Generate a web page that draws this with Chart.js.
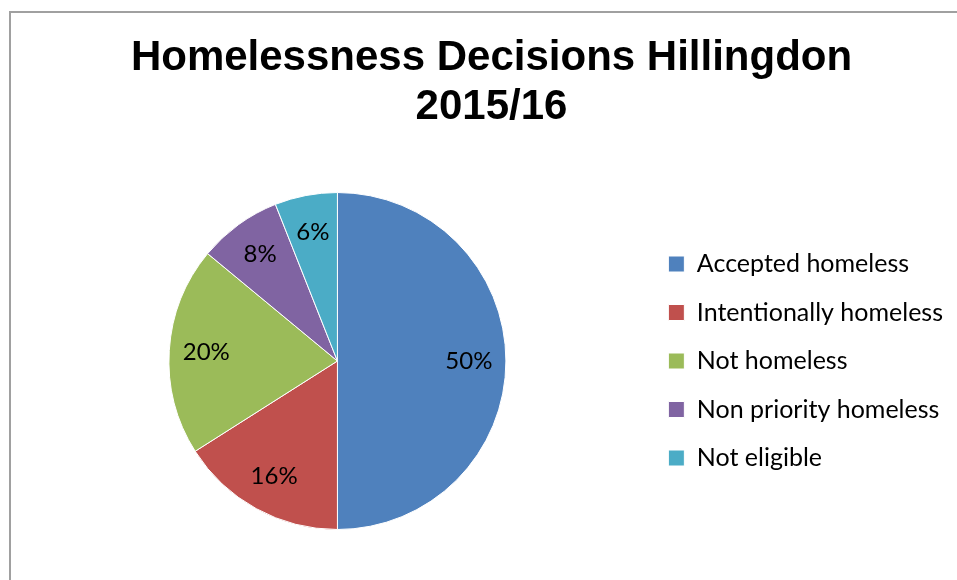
<!DOCTYPE html>
<html>
<head>
<meta charset="utf-8">
<script src="https://cdn.jsdelivr.net/npm/chart.js@4.4.1/dist/chart.umd.min.js"></script>
<style>
  html, body { margin: 0; padding: 0; background: #fff; }
  #wrap { position: relative; width: 957px; height: 580px; overflow: hidden; }
  #frame { position: absolute; left: 9px; top: 11px; width: 960px; height: 600px;
           border-left: 2px solid #a0a0a0; border-top: 2px solid #a0a0a0; }
  #chart { position: absolute; left: 0; top: 0; }
</style>
</head>
<body>
<div id="wrap">
  <div id="frame"></div>
  <canvas id="chart" width="957" height="580"></canvas>
</div>
<script>
// Quyết định về tình trạng vô gia cư - tỉ lệ phần trăm
const categories = ['Accepted homeless', 'Intentionally homeless', 'Not homeless', 'Non priority homeless', 'Not eligible'];
const shares = [50, 16, 20, 8, 6];
const sliceColors = ['#4F81BD', '#C0504D', '#9BBB59', '#8064A2', '#4BACC6'];

const labelFont = "Lato, 'Open Sans', sans-serif";

// Vẽ nhãn % bên trong mỗi lát bánh
const sliceLabels = {
    id: 'sliceLabels',
    afterDatasetsDraw(chart) {
        const ctx = chart.ctx;
        const meta = chart.getDatasetMeta(0);
        ctx.save();
        ctx.font = `24px ${labelFont}`;
        ctx.fillStyle = '#000';
        ctx.textAlign = 'center';
        ctx.textBaseline = 'middle';
        meta.data.forEach((arc, i) => {
            const p = arc.getProps(['x', 'y', 'startAngle', 'endAngle', 'outerRadius'], true);
            const mid = (p.startAngle + p.endAngle) / 2;
            const r = p.outerRadius * 0.78;
            ctx.fillText(shares[i] + '%', p.x + Math.cos(mid) * r, p.y + Math.sin(mid) * r);
        });
        ctx.restore();
    }
};

const ctx = document.getElementById('chart').getContext('2d');
new Chart(ctx, {
    type: 'pie',
    data: {
        labels: categories,
        datasets: [{
            data: shares,
            backgroundColor: sliceColors,
            borderColor: '#ffffff',
            borderWidth: 1
        }]
    },
    options: {
        responsive: false,
        animation: false,
        layout: {
            padding: { left: 30, right: 4, bottom: 50 }
        },
        plugins: {
            title: {
                display: true,
                text: ['Homelessness Decisions Hillingdon', '2015/16'],
                color: '#000',
                font: { family: "'Liberation Sans', Arial, sans-serif", size: 42, weight: 'bold', lineHeight: 1.167 },
                padding: { top: 34, bottom: 60 }
            },
            legend: {
                position: 'right',
                fullSize: false,
                labels: {
                    color: '#000',
                    boxWidth: 16,
                    boxHeight: 16,
                    padding: 23.5,
                    font: { family: labelFont, size: 25 }
                }
            },
            tooltip: { enabled: false }
        }
    },
    plugins: [sliceLabels]
});
</script>
</body>
</html>
